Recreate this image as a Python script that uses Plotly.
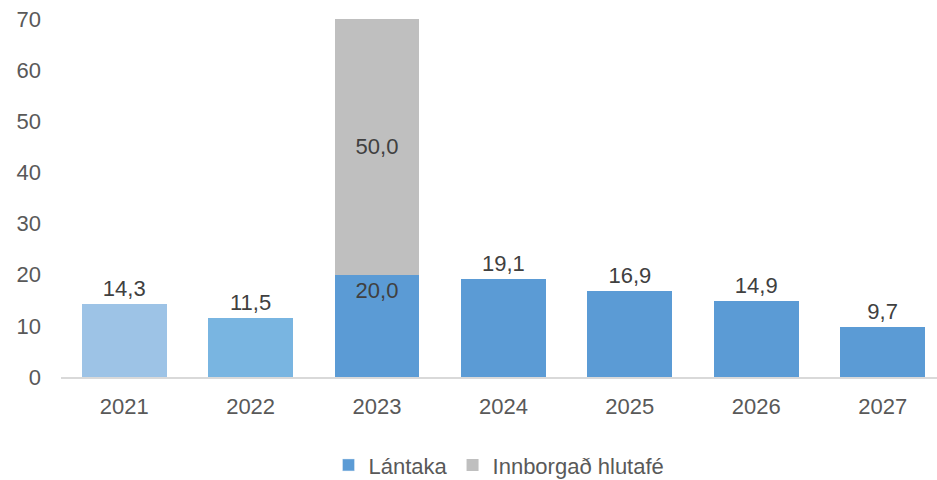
import plotly.graph_objects as go

years = ["2021", "2022", "2023", "2024", "2025", "2026", "2027"]
lantaka = [14.3, 11.5, 20.0, 19.1, 16.9, 14.9, 9.7]
hlutafe = [None, None, 50.0, None, None, None, None]
lantaka_colors = ["#9DC3E6", "#79B5E1", "#5B9BD5", "#5B9BD5", "#5B9BD5", "#5B9BD5", "#5B9BD5"]
label_pos = ["outside", "outside", "inside", "outside", "outside", "outside", "outside"]

font = "Liberation Sans, Arial, sans-serif"
fs = 22

fig = go.Figure()
fig.add_bar(x=years, y=lantaka, name="Lántaka", showlegend=False,
            marker=dict(color=lantaka_colors, line=dict(width=0)),
            texttemplate="%{y:.1f}", textposition=label_pos,
            insidetextanchor="end", constraintext="none",
            textfont=dict(size=fs, color="#404040", family=font),
            cliponaxis=False)
# legend entry for Lántaka in the main series colour
fig.add_bar(x=[years[0]], y=[None], name="Lántaka", marker_color="#5B9BD5")
fig.add_bar(x=years, y=hlutafe, name="Innborgað hlutafé",
            marker=dict(color="#BFBFBF", line=dict(width=0)),
            texttemplate="%{y:.1f}", textposition="inside",
            insidetextanchor="middle", constraintext="none",
            textfont=dict(size=fs, color="#404040", family=font))

fig.update_layout(
    barmode="stack", bargap=0.33, separators=",.",
    width=937, height=480,
    margin=dict(l=61, r=0, t=19, b=103, autoexpand=False),
    paper_bgcolor="white", plot_bgcolor="white",
    font=dict(family=font, size=fs, color="#595959"),
    legend=dict(orientation="h", x=0.5, xanchor="center",
                yref="container", y=0.031, yanchor="middle",
                font=dict(size=fs, color="#595959"), traceorder="normal"),
    xaxis=dict(range=[-0.5, 6.43], showline=True, linecolor="#D9D9D9", linewidth=2,
               ticks="", tickfont=dict(size=fs, color="#595959"), showgrid=False,
               ticklabelstandoff=9),
    yaxis=dict(range=[0, 70], dtick=10, showgrid=False, zeroline=False, showline=False,
               tickfont=dict(size=fs, color="#595959"), ticklabelstandoff=19),
)

fig.write_html("out.html", config={"displayModeBar": False},
               post_script="document.body.style.margin='0';")
